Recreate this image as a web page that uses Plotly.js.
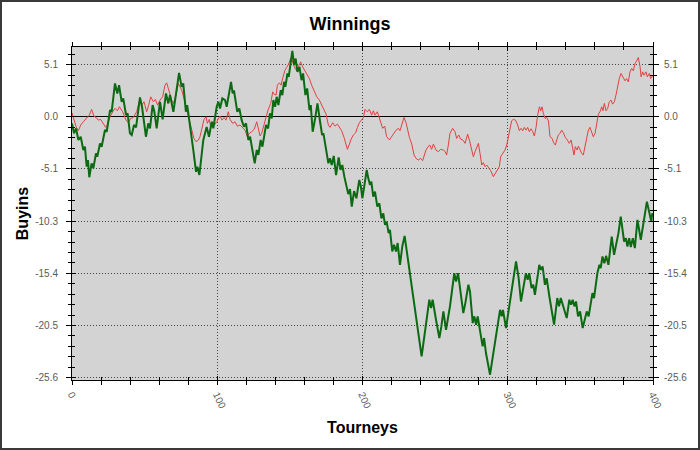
<!DOCTYPE html>
<html>
<head>
<meta charset="utf-8">
<script src="https://cdn.plot.ly/plotly-3.0.1.min.js"></script>
<style>
  html, body { margin: 0; padding: 0; background: #fff; }
  #wrap { position: relative; width: 700px; height: 450px; }
  #chart { position: absolute; left: 0; top: 0; width: 700px; height: 450px; }
  #frame { position: absolute; left: 0; top: 0; width: 700px; height: 450px; box-sizing: border-box; border: 2px solid #3a3a3a; pointer-events: none; }
</style>
</head>
<body>
<div id="wrap"><div id="chart"></div><div id="frame"></div></div>
<script>
// ---- data ----
const redTourney = [0,1.4,2.8,4.4,6,7.8,10.1,11.9,13.5,15.1,16.5,18.1,19.7,21.6,23.2,24.3,26.2,28,29.6,31.2,32.6,34.9,37.2,38.8,40.4,42.2,44.5,46.8,48,49.6,51.4,52.8,54.2,56,57.4,59,
60.6,62.4,64,65.2,66.3,67.5,68.6,69.8,71.6,73.2,74.4,75.5,77.1,78.9,80.8,82.4,83.9,85.4,87,88.1,89.3,90.9,92.3,93.2,94.5,95.5,96.8,98,99.6,100.8,101.9,103.3,104.7,106,107.6,108.8,110.6,112.2,113.8,115.6,117.5,119.1,120.7,122.1,123.7,125.4,127.2,128.3,129.5,130.6,132.2,134,
135.2,136.8,138.2,139.1,140.5,141.4,142.8,143.9,145,146.6,147.8,149.1,150.5,151.7,153.1,154.7,156,157.4,158.8,160.4,161.6,163.4,165,166.6,168.5,170.3,171.9,173.5,174.9,176.5,177.6,179.5,181.1,182.7,184,185.6,187.3,188.7,189.6,191,192.1,193.7,195.3,196.5,197.8,
199.4,200.6,201.7,203.3,204.7,206.3,207.5,208.6,210.2,211.6,212.7,213.9,215.3,216.6,218.5,220.1,221.2,223.1,224.7,225.8,227,228.6,230,230.9,232.3,233.9,235.5,236.8,238.4,240,241.4,242.6,243.7,245.1,246.4,247.6,248.8,250.6,252.2,253.8,255.7,257,257.9,259.1,260.2,262.1,263.7,264.8,266.2,
267.6,269.2,270.6,272.4,273.8,275.2,276.3,277.5,278.6,279.8,280.9,282.1,283.2,284.4,285.5,286.9,288.2,290.1,291.4,292.8,294.2,295.1,296.5,298.1,299.3,300.4,301.6,302.7,303.9,305.3,306.6,308,309.1,310.3,311.4,312.6,313.7,314.9,316,317.2,318.3,319.5,320.6,321.8,322.7,323.6,324.5,325.7,326.8,328,329.1,330.5,331.6,332.8,333.7,334.8,336,337.1,338.3,339.6,341,
342.4,343.6,344.7,345.6,346.5,347.7,348.6,349.8,350.9,352,353.2,354.3,355.5,356.6,357.8,358.9,360.1,361.2,362.4,363.5,364.7,365.6,366.5,367.7,368.8,369.9,371.1,372.2,373.4,374.5,375.4,376.8,378,379.1,380.7,381.8,383,384.2,385.3,386.5,387.6,388.8,389.9,391.1,391.8,392.9,393.8,395.2,396.1,397.5,398.4,400];
const redBuyins = [0.39,-0.33,-0.98,-1.37,-0.81,-0.49,-0.16,0.16,0.72,0.06,-0.06,-0.33,-0.26,-0.65,-1.04,-0.81,0,0.49,0.82,0.59,0.98,0.49,-0.33,-0.59,-0.16,-0.07,0.49,1.8,1.14,1.47,0.49,1.14,1.96,1.47,1.7,1.14,
1.64,1.96,3.1,3.33,2.78,2.45,1.64,1.31,2.13,3.27,2.88,2.62,1.8,0.82,-0.16,-1.31,-2.12,-2.45,-2.29,-1.96,-1.31,-0.26,0,-0.65,-0.26,-1.04,-0.49,-0.82,-0.49,-0.26,0.07,-0.33,-0.07,-0.33,0.49,-0.26,-0.65,-0.49,-0.92,-0.81,-1.14,-1.31,-1.96,-1.63,-1.47,-1.24,-0.49,-1.04,-1.89,-1.63,-0.65,0.16,
0.75,1.31,2.45,2.22,2.13,3.1,3.33,3.1,3.76,4.57,4.84,5.16,5.72,5.49,4.9,4.51,4.97,5.39,4.9,4.51,4.18,3.76,3.1,2.62,1.96,1.64,1.15,0.82,0.26,-0.81,-1.04,-0.59,-0.92,-0.72,-1.04,-1.37,-2.03,-2.68,-3.2,-2.68,-2.22,-1.79,-1.57,-1.04,-0.59,
-0.3,-0.1,0.72,0.49,0.72,0.16,0.59,0.16,0.49,-0.16,-0.65,-1.14,-0.92,-1.96,-2.28,-1.96,-1.7,-1.31,-1.14,-1.37,-0.81,-0.07,-0.59,-1.31,-2.03,-2.68,-3.76,-4.08,-4.25,-4.08,-4.31,-3.76,-3.27,-2.94,-2.78,-3.2,-2.68,-3.27,-3.43,-3.2,-3.27,-3.43,-3.76,-2.78,-1.63,-1.14,-1.47,-2.12,-1.79,
-2.2,-2.3,-2.61,-1.7,-2.4,-3.27,-3.92,-3.43,-3.1,-2.61,-3.59,-4.74,-4.51,-4.9,-4.74,-5.06,-5.29,-5.88,-5.56,-5.23,-4.9,-3.92,-3.59,-3.27,-2.78,-1.96,-1.04,-0.39,-0.26,-0.33,-0.72,-1.37,-1.14,-1.37,-1.04,-1.31,-1.04,-1.47,-1.18,-1.47,-1.89,-1.04,0.16,0.98,0.59,0.98,0.33,-0.16,-0.07,-0.39,-1.96,-2.12,-2.55,-2.78,-2.28,-1.8,-1.63,-1.31,-1.57,-2.02,-2.28,
-2.61,-2.28,-3.1,-3.76,-2.94,-3.27,-2.88,-3.27,-3.59,-3.76,-2.94,-1.96,-1.31,-1.04,-1.47,-1.96,-1.63,-0.81,0.26,0.49,0.98,0.59,1.31,0.59,0.82,1.47,1.64,1.24,1.47,2.13,2.94,3.76,4.25,3.99,3.53,3.76,3.43,4.41,4.74,4.51,5.23,5.49,5.82,4.9,3.92,4.41,4.08,4.41,3.92,4.25,3.76,4.08];

const greenTourney = [0,1.4,2.8,4.4,6,7.8,8.9,10.1,11,11.9,13.5,14.7,16.5,17.4,19.3,20.4,22.7,23.9,26.2,27.3,29.6,31.2,32.4,34.2,35.3,37.2,38.3,39.9,41.1,42.7,44.1,46.8,48.2,50.9,52.5,53.7,55.5,56.7,58.3,
60.6,62.4,64.7,66.3,67.5,69.8,71.6,73.7,75.5,76.6,78.4,79.3,83.5,85.4,86.3,87.7,90.4,92.7,94.3,96.2,97.3,99.6,100.8,101.9,103.5,105.4,106.5,109.5,110.6,111.5,113.8,115.2,116.8,118.4,119.8,121.4,122.6,124.4,125.8,127.2,128.3,
129.9,131.1,133.6,135,136.3,137.5,138.6,139.8,140.9,142.1,143.7,144.8,146,146.9,148.3,149.2,151.7,152.9,154,155.2,156.6,158,159.1,160.7,161.9,163.5,164.4,165.7,167.4,169,170.8,172.2,173.1,174.7,176.5,
177.6,178.8,180.2,181.8,183.6,184.9,186.1,187.5,190.2,191.4,192.6,194.2,195.8,197.8,198.9,199.9,201,202.9,204,205.2,206.1,207.4,208.6,210.2,211.6,213,214.3,215.5,216.6,218,218.9,220.5,221.7,223.1,224.2,225.8,227.4,229,
240.7,246,247.2,248.3,250.6,252.9,254.3,255.7,257.5,260.2,263.2,264.4,265.8,269.4,270.8,272.9,274,275.9,277,278.2,279.3,280.4,282.7,283.7,285,287.8,294.7,295.8,296.7,298.8,305.7,307.5,309.1,310.7,312.5,313.7,314.8,316.4,317.6,318.7,320.3,321.7,322.9,324,325.6,326.8,328.6,
331.9,334.1,335.3,336.5,337.8,340.6,342.4,343.6,344.7,345.9,347,348.4,349.8,351.6,354.4,355.7,358.3,359.4,361.7,363.1,364,365.2,366.5,367.7,369.3,371.6,373.2,376.2,377.8,380.1,381.3,382.4,383.6,384.7,386.1,387.5,389.3,391.6,395.8,397.6,398.8,399.5,400];
const greenBuyins = [-0.65,-1.63,-1.14,-2.28,-1.96,-3.26,-2.94,-4.9,-4.25,-5.94,-4.57,-5.06,-3.59,-3.92,-2.61,-2.94,-1.3,-1.47,0.66,0.49,3.27,2.29,3.11,1.47,1.8,0.17,0.33,-1.63,-1.79,-0.81,-1.04,1.9,0.98,-1.96,-0.65,-1.14,1.15,0.49,-1.14,
1.47,-0.26,2.29,1.31,2.13,0.49,2.29,4.31,2.94,3.27,0.49,1.14,-3.26,-5.4,-4.9,-5.72,-2.28,-1,-1.96,-0.49,-1.14,0.98,1.47,0.82,1.8,1.63,0.98,3.43,2.29,2.6,0.49,0.82,-0.33,-0.98,-0.65,-2.28,-1.96,-3.43,-4.57,-3.26,-3.75,
-2.28,-2.94,-0.81,-1.14,0.33,-0.16,1.64,0.98,1.96,1.15,2.62,2.13,3.43,2.94,4.25,3.92,6.47,5.07,5.72,4.41,4.9,3.59,4.25,2.13,2.78,0.65,1.14,-1.47,-0.16,1.31,-0.49,-1.79,-1.63,-3.26,-4.57,
-4.08,-4.74,-3.85,-5.72,-4,-5.22,-4.74,-5.88,-7.6,-7.1,-8.82,-7.3,-8,-6.21,-6.86,-8,-7.03,-5.23,-6.05,-6.7,-6.37,-7.84,-7.35,-8.82,-8.5,-9.97,-9.48,-10.62,-10.3,-11.43,-11.1,-13.23,-12.58,-13.23,-12.4,-14.54,-12.74,-11.7,
-23.53,-17.97,-18.79,-17.97,-19.93,-21.73,-20.59,-19.12,-20.92,-18.63,-15.36,-16.17,-15.36,-19.28,-18.3,-16.5,-17.15,-20.26,-19.6,-20.42,-19.6,-20.59,-22.55,-21.73,-23.2,-25.33,-18.96,-19.6,-18.96,-20.75,-14.21,-15.85,-18.14,-16.83,-15.36,-16,-15.36,-16.83,-16.5,-17.48,-15.85,-14.54,-15.03,-14.7,-16.5,-15.85,-17.6,
-20.42,-17.8,-18.62,-17.8,-18.46,-19.77,-17.97,-18.46,-17.97,-18.62,-18.14,-19.6,-19.12,-20.75,-19.12,-19.6,-17.32,-17.81,-15.36,-14.54,-14.87,-13.72,-14.38,-13.66,-14.54,-11.76,-13.56,-11.43,-9.8,-12.25,-11.92,-12.74,-11.92,-12.8,-11.92,-12.9,-10.12,-12.08,-8.33,-9.48,-10.29,-9.48,-9.8];

const yTickVals = [5.125, 0, -5.125, -10.25, -15.375, -20.5, -25.625];
const yTickText = ["5.1", "0.0", "-5.1", "-10.3", "-15.4", "-20.5", "-25.6"];
const xTickVals = [0, 100, 200, 300, 400];
const xTickText = ["0", "100", "200", "300", "400"];

// ---- chart ----
const FONT = "Liberation Sans, Arial, sans-serif";
const yRange = [-25.85, 6.85];
const xRange = [0, 400];
const tickFont = {family: FONT, size: 10, color: "#5a5a5a"};

const traces = [
  {x: redTourney, y: redBuyins, type: "scatter", mode: "lines",
   line: {color: "#e2413f", width: 1}, hoverinfo: "skip", xaxis: "x", yaxis: "y"},
  {x: greenTourney, y: greenBuyins, type: "scatter", mode: "lines",
   line: {color: "#0b6a12", width: 2}, hoverinfo: "skip", xaxis: "x", yaxis: "y"},
  {x: [], y: [], type: "scatter", xaxis: "x", yaxis: "y2", showlegend: false},
  {x: [], y: [], type: "scatter", xaxis: "x", yaxis: "y3", showlegend: false},
  {x: [], y: [], type: "scatter", xaxis: "x2", yaxis: "y", showlegend: false}
];

const layout = {
  width: 700, height: 450,
  margin: {l: 72, r: 47, t: 47, b: 70, pad: 0},
  paper_bgcolor: "#ffffff",
  plot_bgcolor: "#d3d3d3",
  showlegend: false,
  font: {family: FONT},
  title: {text: "Winnings", font: {family: FONT, size: 18, color: "#000", weight: "bold"},
          x: 0.5, xanchor: "center", yref: "container", y: 0.948, yanchor: "middle"},
  xaxis: {
    range: xRange, tickmode: "array", tickvals: xTickVals, ticktext: xTickText,
    tickangle: 65, tickfont: tickFont,
    ticks: "outside", ticklen: 4, tickcolor: "#000", tickwidth: 1,
    minor: {dtick: 20, tick0: 0, ticks: "outside", ticklen: 3, tickcolor: "#000", showgrid: false},
    showline: true, linecolor: "#000", linewidth: 1, mirror: "allticks",
    showgrid: true, gridcolor: "#444", griddash: "1px,2px", gridwidth: 1,
    zeroline: false,
    title: {text: "Tourneys", font: {family: FONT, size: 16, color: "#000", weight: "bold"}, standoff: 12}
  },
  xaxis2: {
    range: xRange, overlaying: "x", side: "bottom", tickmode: "array", tickvals: xTickVals,
    showticklabels: false, ticks: "inside", ticklen: 4, tickcolor: "#000",
    minor: {dtick: 20, tick0: 0, ticks: "inside", ticklen: 3, tickcolor: "#000", showgrid: false},
    mirror: "allticks", showline: false, showgrid: false, zeroline: false
  },
  yaxis: {
    range: yRange, tickmode: "array", tickvals: yTickVals, ticktext: yTickText,
    tickfont: tickFont, ticklabelstandoff: 6,
    ticks: "outside", ticklen: 5, tickcolor: "#000", tickwidth: 1,
    minor: {dtick: 1.025, tick0: 0, ticks: "outside", ticklen: 3, tickcolor: "#000", showgrid: false},
    showline: true, linecolor: "#000", linewidth: 1,
    showgrid: true, gridcolor: "#444", griddash: "1px,2px", gridwidth: 1,
    zeroline: true, zerolinecolor: "#000", zerolinewidth: 1,
    title: {text: "Buyins", font: {family: FONT, size: 16, color: "#000", weight: "bold"}, standoff: 2}
  },
  yaxis2: {
    range: yRange, overlaying: "y", side: "right", tickmode: "array", tickvals: yTickVals, ticktext: yTickText,
    tickfont: tickFont, ticklabelstandoff: 3,
    ticks: "outside", ticklen: 5, tickcolor: "#000",
    minor: {dtick: 1.025, tick0: 0, ticks: "outside", ticklen: 3, tickcolor: "#000", showgrid: false},
    showline: true, linecolor: "#000", linewidth: 1,
    showgrid: false, zeroline: false
  },
  yaxis3: {
    range: yRange, overlaying: "y", side: "left", tickmode: "array", tickvals: yTickVals,
    showticklabels: false, ticks: "inside", ticklen: 4, tickcolor: "#000",
    minor: {dtick: 1.025, tick0: 0, ticks: "inside", ticklen: 3, tickcolor: "#000", showgrid: false},
    mirror: "allticks", showline: false, showgrid: false, zeroline: false
  }
};

Plotly.newPlot("chart", traces, layout, {staticPlot: true, displayModeBar: false});
</script>
</body>
</html>
